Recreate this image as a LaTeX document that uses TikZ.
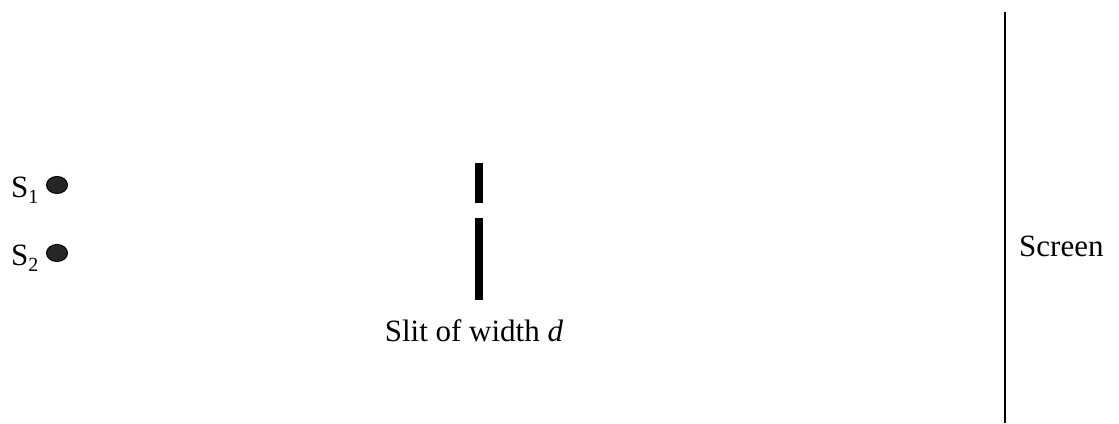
\documentclass[tikz,border=0pt]{standalone}
\usepackage{fontspec}
\setmainfont{Liberation Serif}
\usetikzlibrary{shapes.geometric}
\begin{document}
\begin{tikzpicture}[x=1pt,y=-1pt,
  lbl/.style={inner sep=0pt,font=\fontsize{31}{36}\selectfont},
  src/.style={ellipse,draw=black,fill=black!85,line width=1pt,minimum width=21pt,minimum height=17pt,inner sep=0pt},
  bar/.style={fill=black,draw=none},
  screenline/.style={line width=2pt,black}]
\useasboundingbox (0,0) rectangle (1119,423);
\newcommand{\sub}[1]{\raisebox{-0.2em}{\fontsize{20}{20}\selectfont #1}}
\node[lbl,anchor=base west] (s1) at (11,197) {S\sub{1}};
\node[lbl,anchor=base west] (s2) at (11,265) {S\sub{2}};
\node[src] (d1) at (57,185) {};
\node[src] (d2) at (57,253) {};
\fill[bar] (475,163) rectangle (483,203) coordinate (topbar);
\fill[bar] (475,218) rectangle (483,300) coordinate (botbar);
\node[lbl,anchor=base] (slit) at (474,341) {Slit of width \textit{d}};
\coordinate (sctop) at (1004.5,12);
\coordinate (scbot) at (1004.5,423);
\draw[screenline] (sctop) -- (scbot);
\node[lbl,anchor=base west] (screen) at (1019,256) {Screen};
\end{tikzpicture}
\end{document}
